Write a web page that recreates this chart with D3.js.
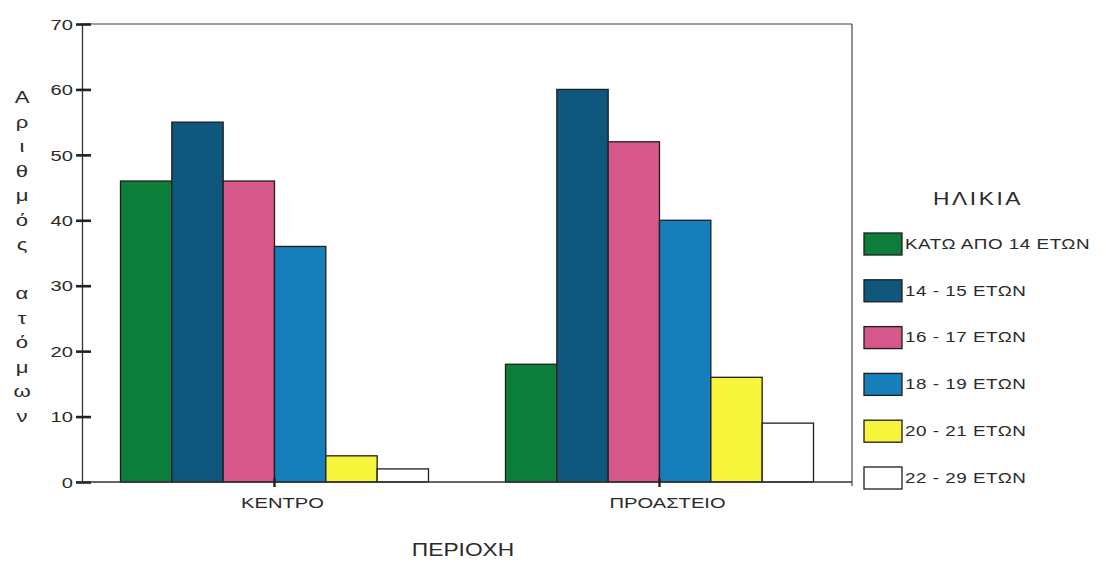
<!DOCTYPE html>
<html>
<head>
<meta charset="utf-8">
<script src="https://cdn.jsdelivr.net/npm/d3@7/dist/d3.min.js"></script>
<style>
  html, body { margin: 0; padding: 0; background: #ffffff; }
  svg { display: block; font-family: "Liberation Sans", Arial, sans-serif; }
</style>
</head>
<body>
<svg id="chart" width="1106" height="564"></svg>
<script>
// Regions (x-axis groups)
const regions = ["ΚΕΝΤΡΟ", "ΠΡΟΑΣΤΕΙΟ"];
// Age groups (legend entries)
const ageGroups = ["ΚΑΤΩ ΑΠΟ 14 ΕΤΩΝ", "14 - 15 ΕΤΩΝ", "16 - 17 ΕΤΩΝ", "18 - 19 ΕΤΩΝ", "20 - 21 ΕΤΩΝ", "22 - 29 ΕΤΩΝ"];
// Number of people per age group, one array per region
const kentroValues = [46, 55, 46, 36, 4, 2];
const proasteioValues = [18, 60, 52, 40, 16, 9];
// Y-axis tick values
const yTicks = [0, 10, 20, 30, 40, 50, 60, 70];
const ageColors = ["#0c7d3a", "#10577e", "#d6588a", "#167fbb", "#f7f43c", "#ffffff"];

const valuesByRegion = [kentroValues, proasteioValues];
const rows = regions.map((r, i) => ({
  region: r,
  values: ageGroups.map((a, j) => ({ age: a, value: valuesByRegion[i][j] }))
}));

const svg = d3.select("#chart");
const plotLeft = 82, plotRight = 852, plotTop = 24, plotBottom = 482;
const textColor = "#2a2a2a";
// The lettering is set in a wide face: glyphs are stretched horizontally.
const textStretch = 1.3;

// Move a text's x/y into a transform so it can be widened around its anchor
function widen(sel) {
  sel.each(function () {
    const t = d3.select(this);
    const x = +t.attr("x") || 0, y = +t.attr("y") || 0;
    const prev = t.attr("transform") || "";
    t.attr("x", 0).attr("y", 0)
      .attr("transform", `${prev} translate(${x},${y}) scale(${textStretch},1)`);
  });
}

const x0 = d3.scaleBand().domain(regions).range([plotLeft, plotRight]).paddingInner(0.2).paddingOuter(0.1);
const x1 = d3.scaleBand().domain(ageGroups).range([0, x0.bandwidth()]);
const y = d3.scaleLinear().domain([0, 70]).range([plotBottom, plotTop]);
const color = d3.scaleOrdinal().domain(ageGroups).range(ageColors);

// Frame: top and right edges of the plot area
svg.append("line").attr("x1", plotLeft).attr("x2", plotRight).attr("y1", plotTop).attr("y2", plotTop)
  .attr("stroke", "#444").attr("stroke-width", 1.2);
svg.append("line").attr("x1", plotRight).attr("x2", plotRight).attr("y1", plotTop).attr("y2", plotBottom + 4)
  .attr("stroke", "#444").attr("stroke-width", 1.2);

// Bars
const groups = svg.append("g").selectAll("g").data(rows).join("g")
  .attr("transform", d => `translate(${x0(d.region)},0)`);
groups.selectAll("rect").data(d => d.values).join("rect")
  .attr("x", d => x1(d.age))
  .attr("y", d => y(d.value))
  .attr("width", x1.bandwidth())
  .attr("height", d => y(0) - y(d.value))
  .attr("fill", d => color(d.age))
  .attr("stroke", "#1e1e1e")
  .attr("stroke-width", 1.3);

// Y axis
const yAxis = svg.append("g").attr("transform", `translate(${plotLeft},0)`)
  .call(d3.axisLeft(y).tickValues(yTicks).tickSize(6).tickPadding(3).tickSizeOuter(0));
yAxis.select(".domain").attr("stroke", "#333").attr("stroke-width", 1.3);
yAxis.selectAll(".tick line").attr("x1", -6).attr("x2", 9).attr("stroke", "#222").attr("stroke-width", 2.6);
yAxis.selectAll(".tick text").attr("font-size", 15.5).attr("fill", textColor).attr("dy", "0.34em")
  .attr("font-family", "Liberation Sans, Arial, sans-serif").call(widen);

// X axis
const xAxis = svg.append("g").attr("transform", `translate(0,${plotBottom})`)
  .call(d3.axisBottom(x0).tickSize(5).tickPadding(10).tickSizeOuter(0));
xAxis.select(".domain").attr("d", `M${plotLeft - 6},0H${plotRight}`).attr("stroke", "#333").attr("stroke-width", 1.3);
xAxis.selectAll(".tick line").attr("y1", -4).attr("y2", 5).attr("stroke", "#222").attr("stroke-width", 2.4);
xAxis.selectAll(".tick text").attr("x", 8).attr("font-size", 15.5).attr("fill", textColor)
  .attr("font-family", "Liberation Sans, Arial, sans-serif").call(widen);

// X axis title
svg.append("text").attr("x", 463).attr("y", 556).attr("text-anchor", "middle")
  .attr("font-size", 17.5).attr("fill", textColor).text("ΠΕΡΙΟΧΗ").call(widen);

// Y axis title, letters stacked vertically
const yTitle = "Αριθμός ατόμων".split("");
svg.append("g").selectAll("text").data(yTitle).join("text")
  .attr("x", 22).attr("y", (d, i) => 97 + i * 24.5)
  .attr("font-size", 17).attr("fill", textColor)
  .attr("text-anchor", "middle").attr("dominant-baseline", "central")
  .text(d => d).call(widen);

// Legend
const legend = svg.append("g");
legend.append("text").attr("x", 978).attr("y", 205).attr("text-anchor", "middle")
  .attr("font-size", 17.5).attr("letter-spacing", 2).attr("fill", textColor).text("ΗΛΙΚΙΑ").call(widen);
const items = legend.selectAll("g.item").data(ageGroups).join("g").attr("class", "item")
  .attr("transform", (d, i) => `translate(864,${233 + i * 46.8})`);
items.append("rect").attr("width", 38).attr("height", 22)
  .attr("fill", d => color(d)).attr("stroke", "#1e1e1e").attr("stroke-width", 1.3);
items.append("text").attr("x", 41).attr("y", 11).attr("dominant-baseline", "central")
  .attr("font-size", 14.5).attr("letter-spacing", 0.4).attr("fill", textColor).text(d => d).call(widen);
</script>
</body>
</html>
